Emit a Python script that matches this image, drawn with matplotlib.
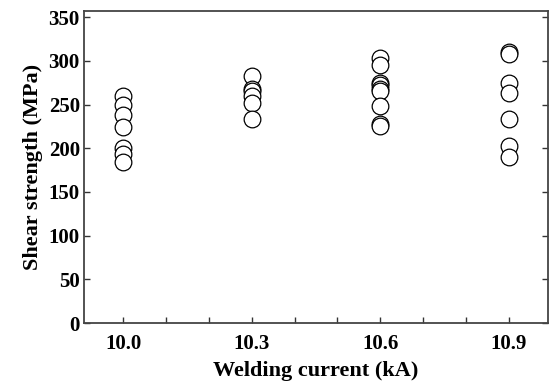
import numpy as np
import matplotlib.pyplot as plt
from matplotlib.ticker import MultipleLocator, FixedLocator

currents = [10.0, 10.3, 10.6, 10.9]
strength_100 = [260, 250, 238, 224, 200, 193, 184]
strength_103 = [283, 268, 266, 260, 252, 233]
strength_106 = [303, 295, 275, 272, 268, 265, 248, 228, 226]
strength_109 = [310, 308, 275, 263, 233, 202, 190]
tick_labels = ["10.0", "10.3", "10.6", "10.9"]

plt.rcParams['font.family'] = ['Liberation Serif', 'DejaVu Serif']
plt.rcParams['font.weight'] = 'bold'

fig = plt.figure(figsize=(5.49, 3.86), dpi=100)
ax = fig.add_axes([0.153, 0.163, 0.845, 0.8085])

for x, vals in zip(currents, [strength_100, strength_103, strength_106, strength_109]):
    ax.plot([x] * len(vals), vals, 'o', mfc='white', mec='black', mew=0.9,
            ms=12, linestyle='none')

ax.set_xlim(9.909, 10.991)
ax.set_ylim(0, 357)
ax.xaxis.set_major_locator(FixedLocator(currents))
ax.set_xticklabels(tick_labels)
ax.xaxis.set_minor_locator(MultipleLocator(0.1))
ax.yaxis.set_major_locator(MultipleLocator(50))
ax.tick_params(axis='both', which='both', direction='in', length=4, width=1,
               labelsize=15, color='#333333')
ax.tick_params(axis='y', which='both', right=True, pad=3)
ax.tick_params(axis='x', pad=8)
for s in ax.spines.values():
    s.set_linewidth(1.3)
    s.set_color('#444444')

ax.set_xlabel('Welding current (kA)', fontsize=16, fontweight='bold', labelpad=5)
ax.set_ylabel('Shear strength (MPa)', fontsize=16, fontweight='bold', labelpad=4)

fig.savefig('out.png', dpi=100)
